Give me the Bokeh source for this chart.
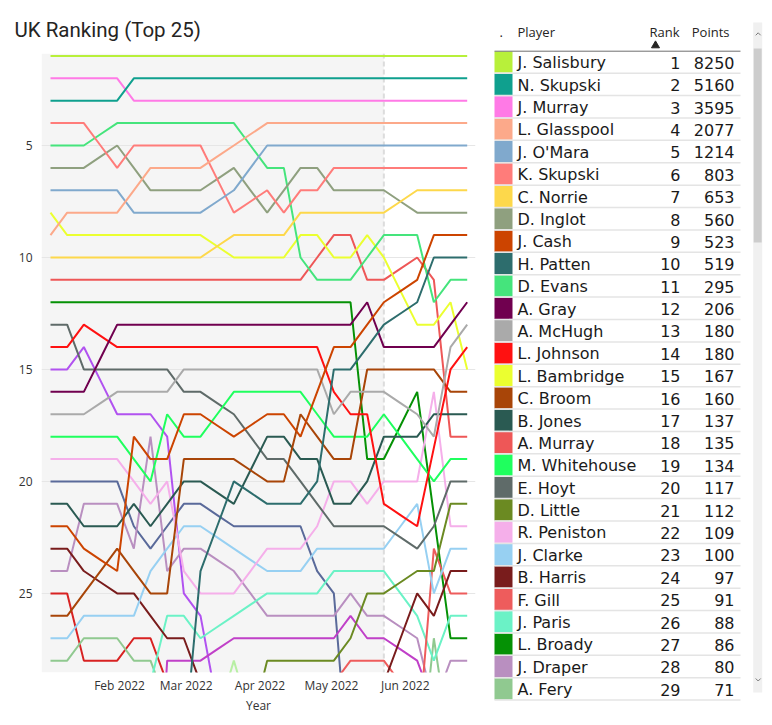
import pandas as pd
from bokeh.plotting import figure
from bokeh.models import Range1d, FixedTicker, DatetimeTickFormatter, BoxAnnotation, Span
from bokeh.layouts import row
from bokeh.embed import file_html
from bokeh.resources import INLINE
from bokeh.core.properties import value

N = float("nan")

# ---------------- data ----------------
weeks = list(pd.date_range("2022-01-03", periods=26, freq="7D"))
forecast_start = "2022-05-23"
month_ticks = ["2022-02-01", "2022-03-01", "2022-04-01", "2022-05-01", "2022-06-01"]
rank_ticks = [5, 10, 15, 20, 25]

salisbury = [1, 1, 1, 1, 1, 1, 1, 1, 1, 1, 1, 1, 1, 1, 1, 1, 1, 1, 1, 1, 1, 1, 1, 1, 1, 1]
n_skupski = [3, 3, 3, 3, 3, 2, 2, 2, 2, 2, 2, 2, 2, 2, 2, 2, 2, 2, 2, 2, 2, 2, 2, 2, 2, 2]
j_murray = [2, 2, 2, 2, 2, 3, 3, 3, 3, 3, 3, 3, 3, 3, 3, 3, 3, 3, 3, 3, 3, 3, 3, 3, 3, 3]
glasspool = [9, 8, 8, 8, 8, 7, 6, 6, 6, 6, 5.5, 5, 4.5, 4, 4, 4, 4, 4, 4, 4, 4, 4, 4, 4, 4, 4]
omara = [7, 7, 7, 7, 7, 8, 8, 8, 8, 8, 7.5, 7, 6, 5, 5, 5, 5, 5, 5, 5, 5, 5, 5, 5, 5, 5]
k_skupski = [4, 4, 4, 5, 6, 5, 5, 5, 5, 5, 6.5, 8, 7.5, 7, 8, 7, 7, 6, 6, 6, 6, 6, 6, 6, 6, 6]
norrie = [10, 10, 10, 10, 10, 10, 10, 10, 10, 10, 9.5, 9, 9, 9, 9, 8, 8, 8, 8, 8, 8, 7.5, 7, 7, 7, 7]
inglot = [6, 6, 6, 5.5, 5, 6, 7, 7, 7, 7, 6.5, 6, 7, 8, 7, 6, 6, 7, 7, 7, 7, 7.5, 8, 8, 8, 8]
cash = [22, 22, 23, 23.5, 24, 18, 19, 19, 17, 17, 17.5, 18, 17.5, 17, 17, 18, 16, 14, 14, 13, 12, 11.5, 11, 9, 9, 9]
patten = [N, N, N, N, N, N, N, 32, 32, 24, 22, 20, 20.5, 21, 21, 21, 20, 15, 15, 14, 13, 12.5, 12, 10, 10, 10]
evans = [5, 5, 5, 4.5, 4, 4, 4, 4, 4, 4, 4, 4, 5, 6, 6, 10, 11, 11, 11, 10, 9, 9, 9, 12, 11, 11]
gray = [16, 16, 16, 14.5, 13, 13, 13, 13, 13, 13, 13, 13, 13, 13, 13, 13, 13, 13, 13, 12, 14, 14, 14, 14, 13, 12]
mchugh = [17, 17, 17, 16.5, 16, 16, 16, 16, 15, 15, 15, 15, 15, 15, 15, 15, 15, 17, 16, 16, 16, 16.5, 17, 18, 14, 13]
johnson = [14, 14, 13, 13.5, 14, 14, 14, 14, 14, 14, 14, 14, 14, 14, 14, 14, 14, 16, 17, 17, 21, 21.5, 22, 18.5, 15, 14]
bambridge = [8, 9, 9, 9, 9, 9, 9, 9, 9, 9, 9.5, 10, 10, 10, 10, 9, 9, 10, 10, 9, 10, 11.5, 13, 13, 12, 15]
broom = [26, 26, 25, 24, 23, 24, 25, 25, 19, 19, 19, 19, 19.5, 20, 20, 17, 18, 19, 19, 15, 15, 15, 15, 15, 16, 16]
jones = [21, 21, 22, 22, 22, 21, 22, 21, 20, 20, 20.5, 21, 19.5, 18, 18, 19, 19, 21, 21, 20, 18, 18, 18, 17, 17, 17]
a_murray = [11, 11, 11, 11, 11, 11, 11, 11, 11, 11, 11, 11, 11, 11, 11, 11, 10, 9, 9, 11, 11, 10.5, 10, 11, 18, 18]
whitehouse = [18, 18, 18, 18, 18, 19, 20, 17, 18, 18, 17, 16, 16, 16, 16, 16, 17, 18, 18, 18, 17, 18, 19, 20, 19, 19]
hoyt = [13, 13, 15, 15, 15, 15, 15, 15, 16, 16, 16.5, 17, 18, 19, 19, 20, 21, 22, 22, 22, 22, 22.5, 23, 22, 20, 20]
little = [N, N, N, N, N, N, N, N, N, N, N, N, 31, 28, 28, 28, 28, 28, 27, 25, 25, 24.5, 24, 24, 21, 21]
peniston = [19, 19, 19, 19, 19, 20, 21, 20, 24, 25, 25, 25, 24, 23, 23, 23, 22, 20, 20, 21, 20, 20, 20, 16, 22, 22]
clarke = [27, 27, 26, 26, 26, 26, 24, 23, 22, 22, 22.5, 23, 23.5, 24, 24, 24, 23, 23, 23, 23, 23, 22, 21, 25, 23, 23]
harris = [23, 23, 24, 24.5, 25, 25, 26, 27, 27, 29, N, N, N, N, N, N, N, N, N, N, 29, 27, 25, 26, 24, 24]
gill = [N, N, N, N, N, N, N, N, N, N, N, N, N, N, N, N, N, 29, 28, 28, 28, 29, 32, 23, 25, 25]
paris = [N, N, N, N, N, N, 29, 26, 26, 27, 26.5, 26, 25.5, 25, 25, 25, 25, 24, 24, 24, 24, 25, 26, 28, 26, 26]
broady = [12, 12, 12, 12, 12, 12, 12, 12, 12, 12, 12, 12, 12, 12, 12, 12, 12, 12, 12, 19, 19, 17.5, 16, 21.5, 27, 27]
draper = [24, 24, 21, 21, 21, 23, 18, 24, 23, 23, 23.5, 24, 25, 26, 26, 26, 26, 26, 25, 26, 26, 26.5, 27, 30, 28, 28]
fery = [28, 28, 27, 27, 27, 28, 28, 30, N, N, N, N, N, N, N, N, N, N, N, N, N, N, 34, 27, 32, 29]

# players who appear in the chart but are outside the visible table rows
extra_purple = [15, 15, 14, 15.5, 17, 17, 17, 18, 25, 26, 30, N, N, N, N, N, N, N, N, N, N, N, N, N, N, N]
extra_slate = [20, 20, 20, 20, 20, 22, 23, 22, 21, 21, 21.5, 22, 22, 22, 22, 22, 24, 25, 34, N, N, N, N, N, N, N]
extra_magenta = [N, N, N, N, N, N, 40, 28, 28, 28, 27.5, 27, 27, 27, 27, 27, 27, 27, 26, 27, 27, 27.5, 28, 30, N, N]
extra_red = [25, 25, 28, 28, 28, 27, 27, 29, N, N, N, N, N, N, N, N, N, N, N, N, N, N, N, N, N, N]
extra_pale = [N, N, N, N, N, N, N, N, N, N, 30.5, 28, 30.5, N, N, N, N, N, N, N, N, N, N, N, N, N]

players = ["J. Salisbury", "N. Skupski", "J. Murray", "L. Glasspool", "J. O'Mara", "K. Skupski",
           "C. Norrie", "D. Inglot", "J. Cash", "H. Patten", "D. Evans", "A. Gray", "A. McHugh",
           "L. Johnson", "L. Bambridge", "C. Broom", "B. Jones", "A. Murray", "M. Whitehouse",
           "E. Hoyt", "D. Little", "R. Peniston", "J. Clarke", "B. Harris", "F. Gill", "J. Paris",
           "L. Broady", "J. Draper", "A. Fery"]
ranks = [1, 2, 3, 4, 5, 6, 7, 8, 9, 10, 11, 12, 13, 14, 15, 16, 17, 18, 19, 20, 21, 22, 23, 24, 25,
         26, 27, 28, 29]
points = [8250, 5160, 3595, 2077, 1214, 803, 653, 560, 523, 519, 295, 206, 180, 180, 167, 160, 137,
          135, 134, 117, 112, 109, 100, 97, 91, 88, 86, 80, 71]
colors = ["#B8F03A", "#0FA08E", "#FF7AE6", "#FCA98A", "#80A9CD", "#FF7C7A", "#FDD84B", "#8FA07F",
          "#CC4400", "#2D6D6D", "#45E47C", "#70004F", "#AAAAAA", "#FF1111", "#EBFF30", "#A84508",
          "#2A5A52", "#EE5757", "#1FFF5E", "#5F6B69", "#6B8A22", "#F5AFEA", "#97D0F2", "#791C1C",
          "#EE5C5C", "#6BF2C6", "#059105", "#B98FC0", "#90C990"]
series = [salisbury, n_skupski, j_murray, glasspool, omara, k_skupski, norrie, inglot, cash, patten,
          evans, gray, mchugh, johnson, bambridge, broom, jones, a_murray, whitehouse, hoyt, little,
          peniston, clarke, harris, gill, paris, broady, draper, fery]
extra_series = [extra_purple, extra_slate, extra_magenta, extra_red, extra_pale]
extra_colors = ["#B152F0", "#5A6A9A", "#C040C8", "#D82222", "#B8EFA4"]

# ---------------- chart ----------------
DAY = 86400000.0
H = 722


def ms(d):
    return pd.Timestamp(d).timestamp() * 1000.0


week_ms = [ms(w) for w in weeks]

p = figure(width=482, height=H, x_axis_type="datetime", output_backend="svg",
           toolbar_location=None,
           x_range=Range1d(week_ms[0] - 3.78 * DAY, week_ms[-1] + 3.49 * DAY),
           y_range=Range1d(28.53, 0.893),
           min_border_left=41, min_border_right=7, min_border_top=53, min_border_bottom=H - 672)
p.outline_line_color = None
p.background_fill_color = "white"
p.border_fill_color = "white"

p.title.text = "UK Ranking (Top 25)"
p.title.text_font = "Roboto"
p.title.text_font_size = "20.5px"
p.title.text_font_style = "normal"
p.title.text_color = "#252423"
p.title.align = "left"
p.title.offset = -27
p.title.standoff = 23

shade = BoxAnnotation(right=ms(forecast_start), fill_color="#F5F5F5", fill_alpha=1.0,
                      line_alpha=0, level="image")
p.add_layout(shade)
p.add_layout(Span(location=ms(forecast_start), dimension="height", line_color="#DCDCDC",
                  line_width=2, line_dash="5 3", level="underlay"))

for vals, c in zip(extra_series, extra_colors):
    p.line(week_ms, vals, line_color=c, line_width=2)
for vals, c in reversed(list(zip(series, colors))):
    p.line(week_ms, vals, line_color=c, line_width=2)

p.xgrid.visible = False
p.ygrid.ticker = FixedTicker(ticks=rank_ticks)
p.ygrid.grid_line_color = "#E6E6E6"
p.ygrid.grid_line_width = 1

p.yaxis.ticker = FixedTicker(ticks=rank_ticks)
p.xaxis.ticker = FixedTicker(ticks=[ms(m) for m in month_ticks])
fmt = "%b %Y"
p.xaxis.formatter = DatetimeTickFormatter(days=fmt, months=fmt, years=fmt, hours=fmt,
                                          minutes=fmt, seconds=fmt, milliseconds=fmt,
                                          microseconds=fmt, minsec=fmt, hourmin=fmt)
p.xaxis.axis_label = "Year"
for ax in (p.xaxis, p.yaxis):
    ax.axis_line_color = None
    ax.major_tick_line_color = None
    ax.minor_tick_line_color = None
    ax.major_tick_out = 0
    ax.major_tick_in = 0
    ax.minor_tick_out = 0
    ax.major_label_text_font = "Open Sans"
    ax.major_label_text_font_size = "12px"
    ax.major_label_text_color = "#333333"
p.yaxis.major_label_standoff = 9
p.xaxis.major_label_standoff = 4
p.xaxis.axis_label_text_font = "Open Sans"
p.xaxis.axis_label_text_font_size = "12px"
p.xaxis.axis_label_text_font_style = "normal"
p.xaxis.axis_label_text_color = "#333333"
p.xaxis.axis_label_standoff = 0

# ---------------- table ----------------
TW = 284
t = figure(width=TW, height=H, x_range=Range1d(0, TW), y_range=Range1d(H, 0), title=None,
           output_backend="svg", toolbar_location=None, x_axis_location=None,
           y_axis_location=None, min_border=0)
t.outline_line_color = None
t.grid.visible = False
t.background_fill_color = "white"
t.border_fill_color = "white"

for fig in (p, t):
    try:
        fig.frame_align = False
    except Exception:
        pass

row0, row_h = 61.5, 22.39
ys = [row0 + row_h * k for k in range(len(players))]

t.rect(x=21, y=ys, width=18, height=21.2, fill_color=colors, line_color=None)
t.segment(x0=12, x1=258, y0=[y + 11.2 for y in ys], y1=[y + 11.2 for y in ys],
          line_color="#E4E4E4", line_width=1.5)
base = [y + 0.8 for y in ys]
txt_kw = dict(text_font=value("DejaVu Sans"), text_font_size="16px",
              text_baseline="alphabetic", text_color="#1A1A1A")
t.text(x=35, y=base, text=players, text_align="left", **txt_kw)
t.text(x=198, y=base, text=[str(r) for r in ranks], text_align="right", **txt_kw)
t.text(x=252, y=base, text=[str(v) for v in points], text_align="right", **txt_kw)

hdr_kw = dict(text_font=value("Open Sans"), text_font_size="13px",
              text_baseline="alphabetic", text_color="#252423")
t.text(x=[17, 35], y=[31.5, 31.5], text=[".", "Player"], text_align="left", **hdr_kw)
t.text(x=[197, 247], y=[31.5, 31.5], text=["Rank", "Points"], text_align="right", **hdr_kw)
t.scatter(x=[173], y=[45.0], marker="triangle", size=8, color="#252423")
t.segment(x0=[12], x1=[258], y0=[50.7], y1=[50.7], line_color="#6E6E6E", line_width=1)

# scrollbar
t.quad(left=270.7, right=279.7, top=22, bottom=692, fill_color="#F0F0F0", line_color=None)
t.quad(left=271.2, right=279.2, top=48, bottom=242, fill_color="#CDCDCD", line_color=None)
t.multi_line(xs=[[273.2, 275.7, 278.2], [273.2, 275.7, 278.2]],
             ys=[[34.8, 32.3, 34.8], [678.0, 680.5, 678.0]],
             line_color="#7A7A7A", line_width=1)

layout = row(p, t)
open("out.html", "w").write(file_html(layout, INLINE))
